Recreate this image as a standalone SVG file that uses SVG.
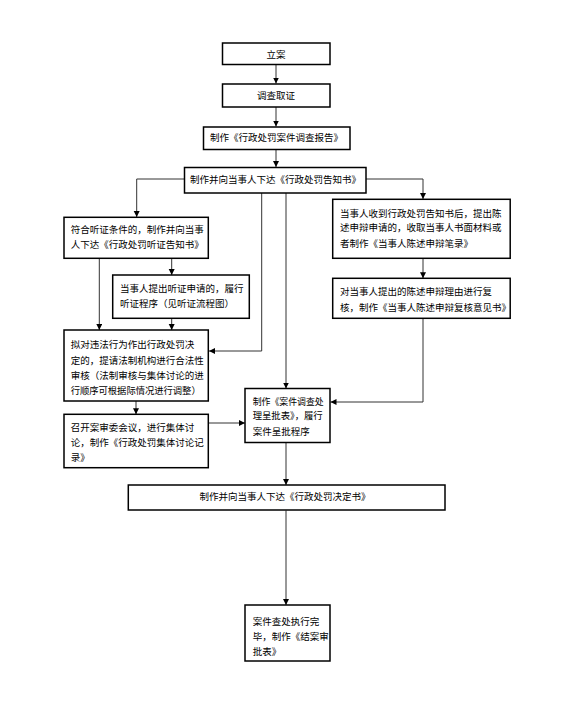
<svg xmlns="http://www.w3.org/2000/svg" width="568" height="703" viewBox="0 0 568 703">
<style>
.box{fill:#fff;stroke:#000;stroke-width:1.5}
.t{font-family:"Noto Sans CJK SC","Noto Sans CJK JP",sans-serif;font-size:9.5px;fill:#000}
.c{text-anchor:middle}
.ln{fill:none;stroke:#333;stroke-width:1}
</style>
<defs>
<marker id="ah" markerUnits="userSpaceOnUse" markerWidth="7" markerHeight="7" refX="6" refY="3" orient="auto">
<path d="M0,0 L6,3 L0,6 Z" fill="#000"/>
</marker>
</defs>
<rect width="568" height="703" fill="#fff"/>
<g id="connectors">
<path class="ln" marker-end="url(#ah)" d="M276,64.5 V83.5"/>
<path class="ln" marker-end="url(#ah)" d="M276,107 V126.5"/>
<path class="ln" marker-end="url(#ah)" d="M276,149.5 V167"/>
<path class="ln" marker-end="url(#ah)" d="M184.5,179 H136.7 V217"/>
<path class="ln" marker-end="url(#ah)" d="M366,179 H423 V199"/>
<path class="ln" marker-end="url(#ah)" d="M261.7,193 V351 H209"/>
<path class="ln" marker-end="url(#ah)" d="M286,193 V388.5"/>
<path class="ln" marker-end="url(#ah)" d="M99.3,258.5 V330"/>
<path class="ln" marker-end="url(#ah)" d="M171.7,258.5 V275"/>
<path class="ln" marker-end="url(#ah)" d="M171.7,318.5 V330"/>
<path class="ln" marker-end="url(#ah)" d="M136,401 V414.3"/>
<path class="ln" marker-end="url(#ah)" d="M208.5,423 H245"/>
<path class="ln" marker-end="url(#ah)" d="M423,258.5 V278.3"/>
<path class="ln" marker-end="url(#ah)" d="M423,318.5 V402 H330.5"/>
<path class="ln" marker-end="url(#ah)" d="M286,442.5 V485"/>
<path class="ln" marker-end="url(#ah)" d="M286,510.5 V605"/>
</g>
<g id="n1"><rect class="box" x="222.5" y="43" width="107.5" height="21.5"/><text class="t c" x="276" y="58.3">立案</text></g>
<g id="n2"><rect class="box" x="222.5" y="84" width="107.5" height="23"/><text class="t c" x="276" y="99">调查取证</text></g>
<g id="n3"><rect class="box" x="203.5" y="127" width="146.5" height="22.5"/><text class="t c" x="276.5" y="141">制作《行政处罚案件调查报告》</text></g>
<g id="n4"><rect class="box" x="184.5" y="167.5" width="181.5" height="25.5"/><text class="t c" x="275.5" y="183.3">制作并向当事人下达《行政处罚告知书》</text></g>
<g id="n5"><rect class="box" x="64" y="217.3" width="144.3" height="41"/><text class="t" x="70.7" y="233.3">符合听证条件的，制作并向当事</text><text class="t" x="70.7" y="248.3">人下达《行政处罚听证告知书》</text></g>
<g id="n6"><rect class="box" x="112.7" y="275" width="136.6" height="43.3"/><text class="t" x="120" y="292.3">当事人提出听证申请的，履行</text><text class="t" x="120" y="306.6">听证程序（见听证流程图）</text></g>
<g id="n7"><rect class="box" x="332.7" y="199.3" width="177.5" height="59"/><text class="t" x="340" y="216.6">当事人收到行政处罚告知书后，提出陈</text><text class="t" x="340" y="231.3">述申辩申请的，收取当事人书面材料或</text><text class="t" x="340" y="246.6">者制作《当事人陈述申辩笔录》</text></g>
<g id="n8"><rect class="box" x="332.7" y="278.3" width="177.5" height="40"/><text class="t" x="340" y="295">对当事人提出的陈述申辩理由进行复</text><text class="t" x="340" y="310.6">核，制作《当事人陈述申辩复核意见书》</text></g>
<g id="n9"><rect class="box" x="64" y="330" width="144.3" height="71"/><text class="t" x="70.7" y="348.3">拟对违法行为作出行政处罚决</text><text class="t" x="70.7" y="363.6">定的，提请法制机构进行合法性</text><text class="t" x="70.7" y="379">审核（法制审核与集体讨论的进</text><text class="t" x="70.7" y="394.3" textLength="130" lengthAdjust="spacingAndGlyphs">行顺序可根据际情况进行调整）</text></g>
<g id="n10"><rect class="box" x="64" y="414.3" width="144.3" height="53.4"/><text class="t" x="70.7" y="431">召开案审委会议，进行集体讨</text><text class="t" x="70.7" y="446">论，制作《行政处罚集体讨论记</text><text class="t" x="70.7" y="461">录》</text></g>
<g id="n11"><rect class="box" x="245" y="388.5" width="85" height="54"/><text class="t" x="252.7" y="405" textLength="71" lengthAdjust="spacingAndGlyphs">制作《案件调查处</text><text class="t" x="252.7" y="419.3" textLength="70" lengthAdjust="spacingAndGlyphs">理呈批表》，履行</text><text class="t" x="252.7" y="435">案件呈批程序</text></g>
<g id="n12"><rect class="box" x="128.3" y="485" width="316.7" height="25"/><text class="t c" x="285" y="500">制作并向当事人下达《行政处罚决定书》</text></g>
<g id="n13"><rect class="box" x="245" y="605" width="85" height="56"/><text class="t" x="252.7" y="625">案件查处执行完</text><text class="t" x="252.7" y="640">毕，制作《结案审</text><text class="t" x="252.7" y="655">批表》</text></g>
</svg>
